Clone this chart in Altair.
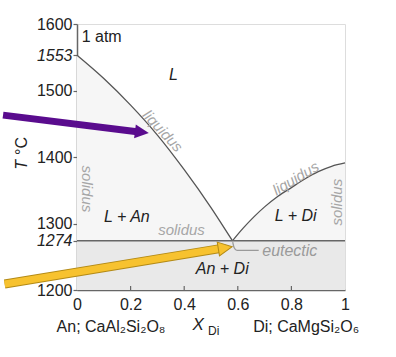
import altair as alt
import pandas as pd

FONT = "Liberation Sans"

# ---- axis values ----
x_ticks = [0, 0.2, 0.4, 0.6, 0.8, 1]
x_inner_ticks = [0.2, 0.4, 0.6, 0.8]
y_ticks = [1200, 1274, 1300, 1400, 1500, 1553, 1600]

# ---- phase boundaries ----
liq_an_x = [0, 0.1, 0.2, 0.3, 0.4, 0.5, 0.58]
liq_an_t = [1553, 1518, 1478, 1433, 1381, 1324, 1274]
liq_di_x = [0.58, 0.62, 0.66, 0.7, 0.75, 0.8, 0.85, 0.9, 0.95, 1.0]
liq_di_t = [1274, 1293, 1310, 1325, 1341, 1354, 1367, 1378, 1386, 1391]
eutectic_t = 1274
solidus_x = [0, 1]

# eutectic leader line
lead_x = [0.581, 0.586, 0.597, 0.678]
lead_t = [1272, 1264, 1259.5, 1259.5]

# ---- text labels ----
it_text = ["L", "L + An", "L + Di", "An + Di", "liquidus", "liquidus",
           "solidus", "solidus", "solidus", "eutectic", "T", "X"]
it_x = [0.36, 0.186, 0.816, 0.542, 0.32, 0.816, 0.036, 0.972, 0.39, 0.794, -0.205, 0.452]
it_t = [1523, 1310, 1311, 1231, 1439, 1368, 1352, 1332, 1290, 1259, 1388, 1147]
it_angle = [0, 0, 0, 0, 47, 329, 90, 270, 0, 0, 270, 0]
it_color = ["#222", "#222", "#222", "#222", "#a6a6a6", "#a6a6a6", "#a6a6a6",
            "#a6a6a6", "#a6a6a6", "#9a9a9a", "#222", "#222"]
it_size = [16, 16, 16, 16, 15, 15, 15, 15, 15, 16, 16, 17]

nm_text = ["1 atm", "°C", "An; CaAl₂Si₂O₈", "Di; CaMgSi₂O₆", "Di"]
nm_x = [0.092, -0.205, 0.127, 0.855, 0.51]
nm_t = [1581, 1416.5, 1144, 1144, 1138]
nm_angle = [0, 270, 0, 0, 0]
nm_size = [16, 16, 16, 16, 12]

# ---- arrows ----
purple_x = [-0.276, 0.224]
purple_t = [1463, 1438]
purple_head = (0.268, 1436, 7)
yellow_x = [-0.27, 0.534]
yellow_t = [1209, 1262.3]
yellow_head = (0.579, 1265, 350.7)

xs = alt.Scale(domain=[0, 1], nice=False, zero=False)
ys = alt.Scale(domain=[1200, 1600], nice=False, zero=False)

xaxis = alt.Axis(values=x_ticks, format="~g", title=None, grid=False,
                 tickSize=0, labelPadding=6, labelFontSize=16, labelFont=FONT,
                 labelColor="#222", domainColor="#666", domainWidth=1.5,
                 labelFlush=False, labelOverlap=False)
yaxis = alt.Axis(values=y_ticks, format="d", title=None, grid=False, tickSize=4,
                 tickColor="#666", tickWidth=1.2, labelPadding=1,
                 labelFontSize=16, labelFont=FONT, labelColor="#222",
                 domainColor="#666", domainWidth=1.5, labelFlush=False,
                 labelOverlap=False,
                 labelFontStyle={"condition": {"test": "datum.value == 1274 || datum.value == 1553",
                                               "value": "italic"}, "value": "normal"})

X = alt.X("x:Q", scale=xs, axis=xaxis)
Y = alt.Y("t:Q", scale=ys, axis=yaxis)

df_an = pd.DataFrame({"x": liq_an_x, "t": liq_an_t, "t2": [eutectic_t] * len(liq_an_x)})
df_di = pd.DataFrame({"x": liq_di_x, "t": liq_di_t, "t2": [eutectic_t] * len(liq_di_x)})
df_sub = pd.DataFrame({"x": [0], "x2": [1], "t": [1200], "t2": [eutectic_t]})
df_sol = pd.DataFrame({"x": solidus_x, "t": [eutectic_t] * 2})
df_tick = pd.DataFrame({"x": x_inner_ticks, "t": [1200] * 4, "t2": [1206] * 4})
df_lead = pd.DataFrame({"x": lead_x, "t": lead_t, "o": list(range(len(lead_x)))})

area_an = alt.Chart(df_an).mark_area(color="#f6f6f6", interpolate="monotone").encode(
    x=X, y=Y, y2="t2:Q")
area_di = alt.Chart(df_di).mark_area(color="#f6f6f6", interpolate="monotone").encode(
    x=X, y=Y, y2="t2:Q")
rect_sub = alt.Chart(df_sub).mark_rect(color="#e9e9e9").encode(
    x=X, x2="x2:Q", y=Y, y2="t2:Q")
line_an = alt.Chart(df_an).mark_line(color="#555", strokeWidth=1.3, interpolate="monotone").encode(
    x=X, y=Y)
line_di = alt.Chart(df_di).mark_line(color="#555", strokeWidth=1.3, interpolate="monotone").encode(
    x=X, y=Y)
line_sol = alt.Chart(df_sol).mark_line(color="#666", strokeWidth=1.5).encode(x=X, y=Y)
ticks_in = alt.Chart(df_tick).mark_rule(color="#666", strokeWidth=1.2).encode(
    x=X, y=Y, y2="t2:Q")
leader = alt.Chart(df_lead).mark_line(color="#9a9a9a", strokeWidth=1.3, interpolate="monotone").encode(
    x=X, y=Y, order="o:Q")

df_it = pd.DataFrame({"text": it_text, "x": it_x, "t": it_t, "angle": it_angle,
                      "color": it_color, "size": it_size})
df_nm = pd.DataFrame({"text": nm_text, "x": nm_x, "t": nm_t, "angle": nm_angle,
                      "size": nm_size})
txt_it = alt.Chart(df_it).mark_text(font=FONT, fontStyle="italic", align="center",
                                    baseline="middle").encode(
    x=X, y=Y, text="text:N", angle=alt.Angle("angle:Q", scale=None),
    color=alt.Color("color:N", scale=None), size=alt.Size("size:Q", scale=None))
txt_nm = alt.Chart(df_nm).mark_text(font=FONT, align="center", baseline="middle",
                                    color="#222").encode(
    x=X, y=Y, text="text:N", angle=alt.Angle("angle:Q", scale=None),
    size=alt.Size("size:Q", scale=None))

HEAD = "M0,0 L-2,-1 L-2,1 Z"
df_p = pd.DataFrame({"x": purple_x, "t": purple_t})
df_y = pd.DataFrame({"x": yellow_x, "t": yellow_t})
df_ph = pd.DataFrame({"x": [purple_head[0]], "t": [purple_head[1]], "a": [purple_head[2]]})
df_yh = pd.DataFrame({"x": [yellow_head[0]], "t": [yellow_head[1]], "a": [yellow_head[2]]})

p_shaft = alt.Chart(df_p).mark_line(color="#5a0c8e", strokeWidth=7, strokeCap="butt").encode(x=X, y=Y)
p_head = alt.Chart(df_ph).mark_point(shape=HEAD, size=196, filled=True, opacity=1,
                                     fill="#5a0c8e", strokeWidth=0).encode(
    x=X, y=Y, angle=alt.Angle("a:Q", scale=None))
y_out = alt.Chart(df_y).mark_line(color="#b38a16", strokeWidth=9, strokeCap="butt").encode(x=X, y=Y)
y_shaft = alt.Chart(df_y).mark_line(color="#f7c22f", strokeWidth=7, strokeCap="butt").encode(x=X, y=Y)
y_head = alt.Chart(df_yh).mark_point(shape=HEAD, size=196, filled=True, opacity=1,
                                     fill="#f7c22f", stroke="#b38a16", strokeWidth=1).encode(
    x=X, y=Y, angle=alt.Angle("a:Q", scale=None))

chart = alt.layer(
    area_an, area_di, rect_sub, line_an, line_di, line_sol, ticks_in, leader,
    txt_it, txt_nm, p_shaft, p_head, y_out, y_shaft, y_head
).properties(
    width=268, height=266,
    autosize=alt.AutoSizeParams(type="none"),
    padding={"left": 77, "top": 24, "right": 51, "bottom": 67},
).configure_view(stroke="#666", strokeWidth=1.5).configure(font=FONT, background="white")

chart.save("out.html", embed_options={"renderer": "svg", "actions": False})
